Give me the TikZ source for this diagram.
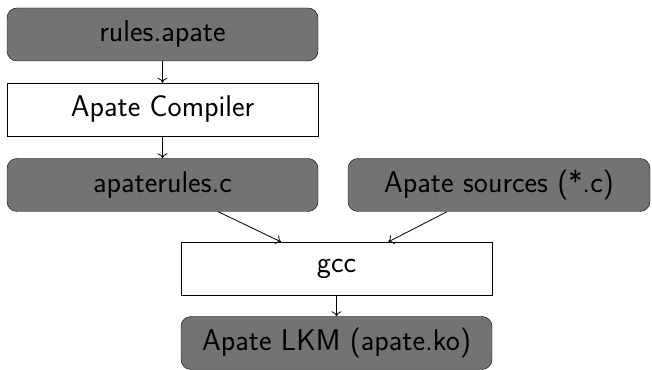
\documentclass[tikz,border=0pt]{standalone}
\usetikzlibrary{shapes,arrows,arrows.meta}
\tikzstyle{file} = [draw, fill=black!55, rectangle, rounded corners=10pt,
    minimum height=53pt, minimum width=311pt, inner sep=0pt]
\tikzstyle{tool} = [draw, fill=white, rectangle,
    minimum height=53pt, minimum width=311pt, inner sep=0pt]
\tikzstyle{flow} = [draw, arrows={-To[length=5pt,width=10pt]}, line width=0.8pt]

\begin{document}
\begin{tikzpicture}[x=1pt, y=1pt, font=\fontsize{30}{36}\selectfont\sffamily]
\useasboundingbox (0,0) rectangle (652,369);

\node[file, name=rules] at (162.5,334.5) {rules.apate};
\node[tool, name=compiler] at (162.5,259.5) {Apate Compiler};
\node[file, name=crules] at (162.5,184) {apaterules.c};
\node[file, name=sources, minimum width=302pt] at (499,184) {Apate sources (*.c)};
\node[tool, name=gcc] at (336.5,100.5) {gcc};
\node[file, name=lkm] at (336.5,26) {Apate LKM (apate.ko)};

\draw[flow] (rules) -- (compiler);
\draw[flow] (compiler) -- (crules);
\draw[flow] (crules) -- (gcc);
\draw[flow] (sources) -- (gcc);
\draw[flow] (gcc) -- (lkm);

\end{tikzpicture}
\end{document}
